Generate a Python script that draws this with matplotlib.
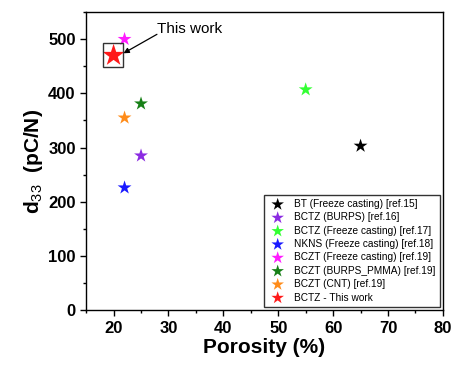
import matplotlib
matplotlib.use('Agg')
import matplotlib.pyplot as plt
from matplotlib.patches import Rectangle
from matplotlib.ticker import MultipleLocator

labels = ['BT (Freeze casting) [ref.15]', 'BCTZ (BURPS) [ref.16]',
          'BCTZ (Freeze casting) [ref.17]', 'NKNS (Freeze casting) [ref.18]',
          'BCZT (Freeze casting) [ref.19]', 'BCZT (BURPS_PMMA) [ref.19]',
          'BCZT (CNT) [ref.19]', 'BCTZ - This work']
porosity = [65, 25, 55, 22, 22, 25, 22, 20]
d33 = [303, 285, 407, 226, 500, 381, 355, 470]
colors = ['#000000', '#8b2be2', '#33ff33', '#1a1aff', '#ff1aff', '#178017', '#ff8c1a', '#ff1a1a']
sizes = [110, 110, 110, 110, 110, 110, 110, 280]

plt.rcParams['font.family'] = ['Liberation Sans', 'DejaVu Sans']
plt.rcParams['mathtext.fontset'] = 'custom'
plt.rcParams['mathtext.rm'] = 'Liberation Sans'
plt.rcParams['mathtext.bf'] = 'Liberation Sans:bold'

fig = plt.figure(figsize=(4.51, 3.67), dpi=100)
ax = fig.add_axes([0.191, 0.155, 0.791, 0.812])

for x, y, c, s, lab in zip(porosity, d33, colors, sizes, labels):
    ax.scatter(x, y, marker='*', s=s, color=c, edgecolors='none', label=lab, zorder=3)

# box + arrow for this work
ax.add_patch(Rectangle((18.0, 448), 3.8, 45, fill=False, edgecolor='#333333', lw=1.0, zorder=4))
ax.text(28.0, 531, 'This work', fontsize=11, va='top', ha='left')
ax.annotate('', xy=(21.8, 474), xytext=(27.9, 509),
            arrowprops=dict(arrowstyle='-|>', color='black', lw=0.9, mutation_scale=8,
                            shrinkA=0, shrinkB=0))

ax.set_xlim(15, 80)
ax.set_ylim(0, 550)
ax.xaxis.set_major_locator(MultipleLocator(10))
ax.xaxis.set_minor_locator(MultipleLocator(5))
ax.yaxis.set_major_locator(MultipleLocator(100))
ax.yaxis.set_minor_locator(MultipleLocator(50))
ax.tick_params(which='major', direction='out', length=4, width=1, labelsize=12)
ax.tick_params(which='minor', direction='out', length=2.5, width=1)
for lab in ax.get_xticklabels() + ax.get_yticklabels():
    lab.set_fontweight('bold')
for sp in ax.spines.values():
    sp.set_linewidth(1.0)

ax.set_xlabel('Porosity (%)', fontsize=15, fontweight='bold', labelpad=2)
ax.set_ylabel('d$_{\\mathrm{33}}$  (pC/N)', fontsize=15, fontweight='bold', labelpad=2)

leg = ax.legend(loc='lower right', fontsize=7.3, frameon=True, fancybox=False,
                edgecolor='black', handletextpad=0.7, labelspacing=0.33,
                borderaxespad=0.3, borderpad=0.45, handlelength=1.8, scatterpoints=1,
                bbox_to_anchor=(1.0, 0.0))
leg.get_frame().set_linewidth(1.0)
for h in leg.legend_handles:
    h.set_sizes([90])

fig.savefig('out.png', dpi=100)
